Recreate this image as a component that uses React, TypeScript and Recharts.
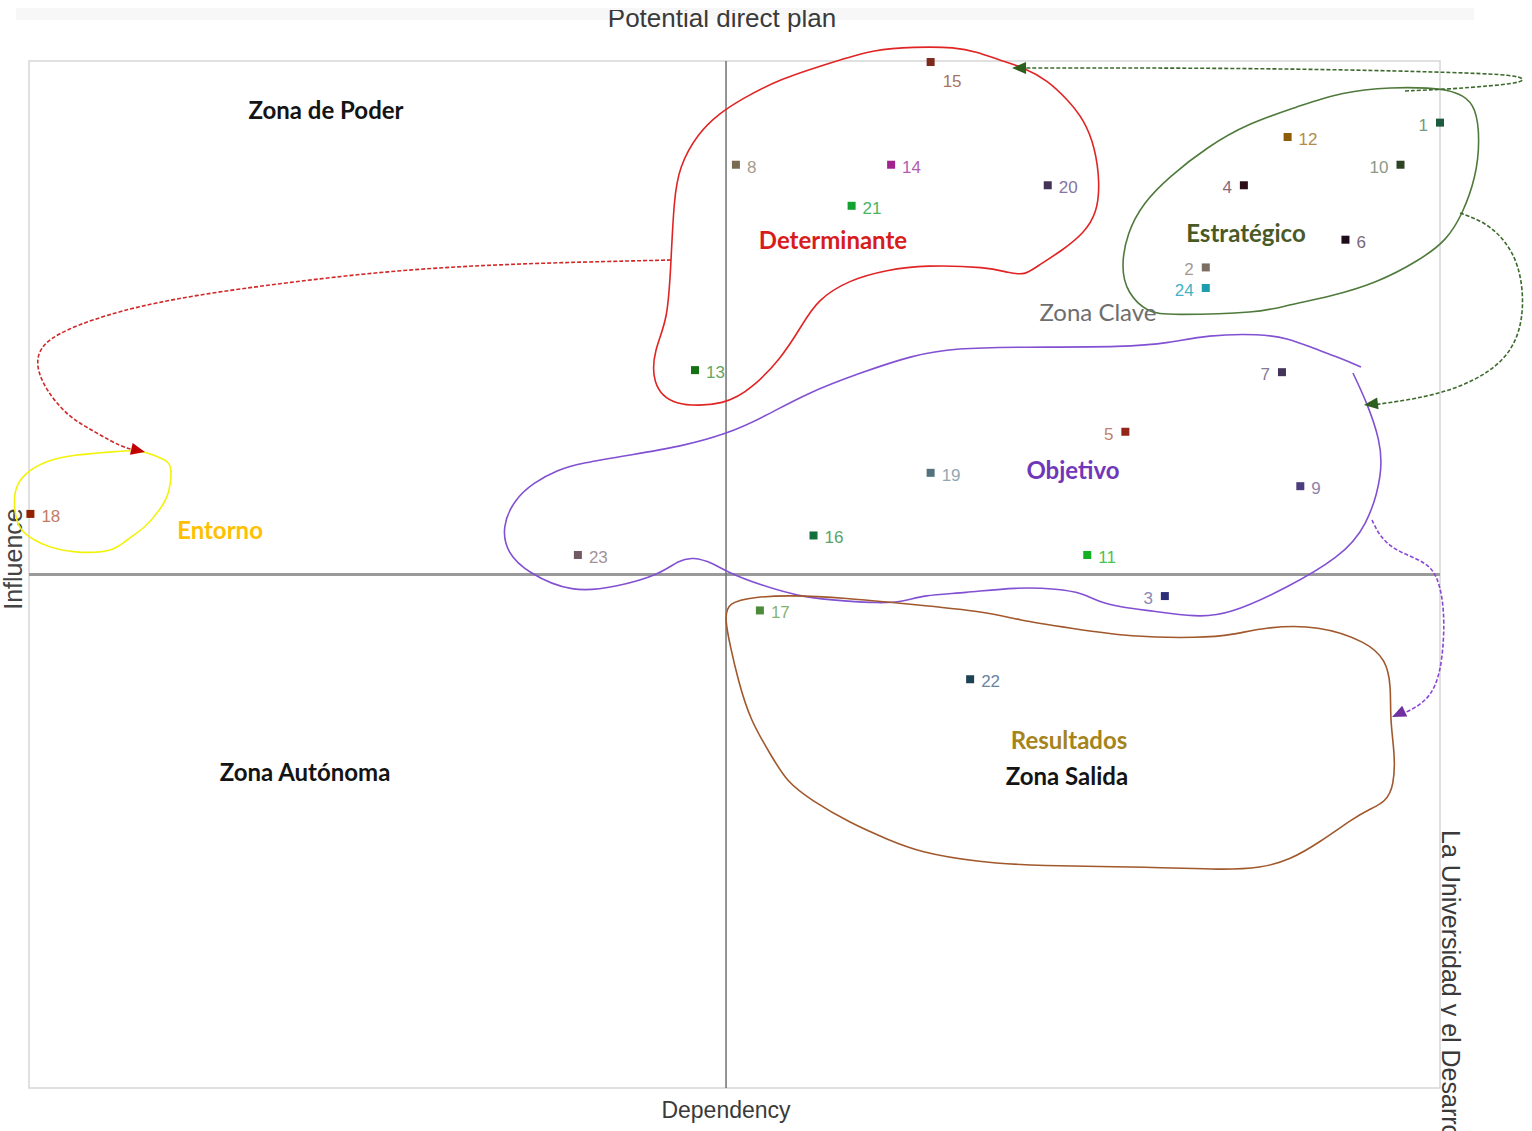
import React from "react";
import { ScatterChart, Scatter, XAxis, YAxis, ReferenceLine, ReferenceArea, Customized } from "recharts";

// variables: dependency (x) / influence (y)
const variableIds = ["1", "2", "3", "4", "5", "6", "7", "8", "9", "10", "11", "12", "13", "14", "15", "16", "17", "18", "19", "20", "21", "22", "23", "24"];
const dependency = [100.0, 83.4, 80.5, 86.1, 77.7, 93.3, 88.8, 50.1, 90.1, 97.2, 75.0, 89.2, 47.2, 61.1, 63.9, 55.6, 51.8, 0.1, 63.9, 72.2, 58.3, 66.7, 38.9, 83.4];
const influence = [94.0, 79.9, 47.9, 87.9, 63.9, 82.6, 69.7, 89.9, 58.6, 89.9, 51.9, 92.6, 69.9, 89.9, 99.9, 53.8, 46.5, 55.9, 59.9, 87.9, 85.9, 39.8, 51.9, 77.9];

// zone names and where they sit on the plan
const zoneNames = ["Zona de Poder", "Determinante", "Estratégico", "Zona Clave", "Objetivo", "Entorno", "Resultados", "Zona Salida", "Zona Autónoma"];
const zoneDependency = [21.05, 56.98, 86.25, 75.76, 73.99, 13.54, 73.71, 73.56, 19.56];
const zoneInfluence = [95.23, 82.57, 83.25, 75.56, 60.18, 54.33, 33.89, 30.38, 30.77];

// hand drawn outlines (dependency, influence)
const determinanteOutline = [
  [45.5, 66.31], [44.15, 68.65], [44.29, 71.86], [45.29, 74.78], [45.5, 80.62], [45.71, 86.47], [46.07, 89.68],
  [47.41, 92.99], [48.97, 94.94], [50.39, 96.2], [53.01, 98.15], [56.77, 99.81], [60.03, 101.17], [62.65, 101.36],
  [65.7, 101.36], [67.19, 100.88], [68.75, 100.1], [70.59, 99.32], [72.15, 98.15], [73.64, 96.2], [74.77, 94.26],
  [75.55, 91.63], [75.9, 88.12], [75.69, 85.2], [74.77, 83.25], [73.28, 81.6], [71.37, 79.94], [70.59, 79.16],
  [69.45, 79.36], [67.97, 79.94], [63.43, 80.14], [60.81, 79.65], [58.11, 78.68], [55.85, 76.73], [54.71, 74.1],
  [53.22, 70.89], [51.31, 68.26], [49.47, 66.5],
];
const entornoOutline = [
  [7.58, 62.12], [5.81, 61.93], [3.12, 61.64], [1.35, 61.15], [-0.35, 59.88], [-1.06, 58.23], [-1.06, 56.28],
  [-0.71, 54.33], [0.35, 53.36], [1.35, 52.68], [3.12, 52.09], [6.02, 52.19], [6.87, 53.36], [8.22, 54.53],
  [9.28, 56.28], [9.99, 57.94], [10.13, 60.47], [9.78, 61.15], [8.22, 61.93],
];
const estrategicoOutline = [
  [99.36, 97.37], [96.67, 97.47], [92.91, 96.98], [89.87, 95.52], [86.46, 93.96], [83.49, 91.63], [80.79, 88.71],
  [78.95, 86.17], [77.82, 83.25], [77.39, 79.94], [77.82, 77.41], [79.31, 75.46], [80.79, 75.27], [87.24, 75.46],
  [89.16, 76.24], [92.13, 77.02], [95.53, 78.38], [98.58, 80.62], [100.5, 82.57], [101.63, 85.2], [102.55, 88.71],
  [102.83, 92.31], [102.55, 95.52], [101.63, 96.69], [100.5, 97.18],
];
const objetivoOutline = [
  [94.4, 70.2], [92.91, 71.08], [91.0, 72.05], [89.16, 73.03], [87.24, 73.42], [83.49, 73.32], [80.79, 72.54],
  [77.82, 72.15], [70.23, 72.15], [65.7, 72.05], [62.65, 71.37], [58.89, 69.62], [55.14, 67.67], [52.09, 65.34],
  [49.47, 63.68], [46.07, 62.42], [42.59, 61.64], [39.19, 60.86], [37.42, 60.18], [35.72, 58.91], [34.37, 57.25],
  [33.52, 54.62], [33.88, 52.09], [35.36, 50.15], [38.48, 48.2], [41.6, 48.78], [44.65, 49.95], [46.07, 51.41],
  [47.06, 51.7], [48.48, 51.12], [49.47, 50.24], [51.81, 48.98], [55.0, 47.71], [57.9, 47.42], [60.17, 47.22],
  [61.94, 47.32], [63.36, 48.0], [66.27, 48.2], [70.02, 48.78], [72.93, 48.59], [74.63, 48.2], [75.83, 47.32],
  [77.25, 46.84], [79.59, 46.45], [82.71, 45.86], [84.97, 46.06], [89.16, 48.69], [92.91, 51.7], [94.83, 54.62],
  [95.96, 59.88], [95.75, 63.1], [94.83, 66.7], [93.83, 69.62],
];
const resultadosOutline = [
  [49.47, 47.32], [51.52, 47.81], [53.86, 48.0], [57.9, 47.71], [62.23, 47.13], [68.04, 46.35], [70.02, 45.57],
  [73.78, 44.79], [78.1, 43.91], [82.99, 43.82], [85.33, 44.11], [87.6, 44.89], [91.42, 45.08], [94.83, 43.43],
  [96.17, 41.67], [96.53, 39.24], [96.46, 35.83], [96.81, 32.42], [96.74, 29.5], [96.17, 27.85], [94.9, 27.07],
  [93.9, 26.29], [91.5, 23.95], [89.37, 22.2], [87.31, 21.42], [84.55, 21.23], [79.66, 21.52], [71.37, 21.62],
  [67.19, 22.01], [63.08, 22.98], [60.95, 24.15], [58.19, 25.8], [55.42, 28.04], [53.72, 29.8], [52.66, 32.23],
  [51.1, 35.83], [50.25, 39.73], [49.68, 43.14], [49.33, 45.57],
];

// dashed arrows between zones
const arrowToEntorno = [
  [45.5, 80.62], [39.19, 80.43], [32.32, 80.14], [25.44, 79.55], [18.57, 78.48], [11.69, 77.21], [6.52, 75.76],
  [2.41, 73.81], [0.71, 72.15], [0.5, 70.2], [1.2, 67.96], [2.76, 65.34], [4.82, 63.78], [6.52, 62.42], [7.73, 62.03],
];
const arrowToDeterminante = [
  [97.52, 97.08], [100.71, 97.27], [103.54, 97.57], [105.53, 97.86], [106.09, 98.25], [105.1, 98.64], [102.13, 98.83],
  [97.16, 99.03], [90.08, 99.22], [81.57, 99.32], [73.99, 99.32], [70.38, 99.32],
];
const arrowToObjetivo = [
  [101.42, 85.2], [103.19, 84.32], [104.61, 82.57], [105.6, 80.14], [105.95, 76.73], [105.67, 73.51], [104.61, 70.89],
  [102.48, 68.84], [99.72, 67.48], [96.81, 66.8], [95.18, 66.5],
];
const arrowToResultados = [
  [95.18, 55.31], [95.75, 53.65], [96.81, 52.39], [98.23, 51.61], [99.43, 50.73], [100.0, 48.98], [100.28, 46.54],
  [100.28, 43.62], [100.0, 40.21], [99.29, 38.07], [98.23, 37.0], [97.31, 36.42],
];
const arrowTipDependency = [8.22, 69.67, 94.61, 96.6];
const arrowTipInfluence = [61.93, 99.32, 66.5, 36.12];

const markColors: Record<string, [string, string]> = {
  "1": ["#1d5c3e", "#6f9c80"], "2": ["#7d6e64", "#a39a92"], "3": ["#2e2e78", "#8a8ab4"], "4": ["#2b0c18", "#876a78"],
  "5": ["#93261a", "#c2806e"], "6": ["#1c0c1c", "#796879"], "7": ["#43355a", "#877a96"], "8": ["#7a6c52", "#a59d8c"],
  "9": ["#4d3d7d", "#8d83a8"], "10": ["#2c4324", "#8b9a88"], "11": ["#12b022", "#45c454"], "12": ["#8c5c06", "#b48a4c"],
  "13": ["#147214", "#64a664"], "14": ["#a0228c", "#b25cb2"], "15": ["#7b2c1c", "#a57466"], "16": ["#12703a", "#56a468"],
  "17": ["#4c8a3c", "#84b474"], "18": ["#922202", "#c47a64"], "19": ["#52727e", "#94a6b0"], "20": ["#433356", "#8375a2"],
  "21": ["#12a232", "#46b664"], "22": ["#1c4254", "#6884a2"], "23": ["#725a64", "#a3929a"], "24": ["#1c9cae", "#42b2c4"],
};
const leftLabels = ["1", "10", "4", "2", "24", "7", "5", "3"];

const zoneStyle: Record<string, { fill: string; weight: number }> = {
  "Zona de Poder": { fill: "#141414", weight: 700 },
  Determinante: { fill: "#d81c1c", weight: 700 },
  "Estratégico": { fill: "#4a5a26", weight: 700 },
  "Zona Clave": { fill: "#6e6e6e", weight: 400 },
  Objetivo: { fill: "#7038b8", weight: 700 },
  Entorno: { fill: "#ffc000", weight: 700 },
  Resultados: { fill: "#a5841c", weight: 700 },
  "Zona Salida": { fill: "#141414", weight: 700 },
  "Zona Autónoma": { fill: "#141414", weight: 700 },
};

const outlines = [
  { data: determinanteOutline, color: "#e02424", dash: undefined, joint: "basisClosed" },
  { data: entornoOutline, color: "#f2f20a", dash: undefined, joint: "basisClosed" },
  { data: estrategicoOutline, color: "#4f7a3c", dash: undefined, joint: "basisClosed" },
  { data: objetivoOutline, color: "#8250d2", dash: undefined, joint: "basis" },
  { data: resultadosOutline, color: "#a0582c", dash: undefined, joint: "basisClosed" },
  { data: arrowToEntorno, color: "#d02828", dash: "4 2", joint: "basis" },
  { data: arrowToDeterminante, color: "#3c6a2c", dash: "4 2", joint: "basis" },
  { data: arrowToObjetivo, color: "#3c6a2c", dash: "4 2", joint: "basis" },
  { data: arrowToResultados, color: "#8a46d6", dash: "4 2", joint: "basis" },
];
const arrowTips = [
  { angle: 13, color: "#c00000" },
  { angle: 180, color: "#2e5e1e" },
  { angle: 173, color: "#2e5e1e" },
  { angle: 155, color: "#7030a0" },
];

const variables = variableIds.map((id, i) => ({ id, x: dependency[i], y: influence[i] }));
const zones = zoneNames.map((name, i) => ({ name, x: zoneDependency[i], y: zoneInfluence[i] }));
const toPoints = (pairs: number[][]) => pairs.map(([x, y]) => ({ x, y }));

const ARIAL = '"Liberation Sans", Arial, sans-serif';

const renderVariable = (props: any) => {
  const { cx, cy, payload } = props;
  const [mark, text] = markColors[payload.id];
  const left = leftLabels.includes(payload.id);
  const below = payload.id === "15";
  return (
    <g>
      <rect x={cx - 4} y={cy - 4} width={8} height={8} fill={mark} />
      <text
        x={left ? cx - 12 : cx + (below ? 12 : 11)}
        y={below ? cy + 25 : cy + 8}
        textAnchor={left ? "end" : "start"}
        fontFamily={ARIAL}
        fontSize={17}
        fill={text}
      >
        {payload.id}
      </text>
    </g>
  );
};

const renderZone = (props: any) => {
  const { cx, cy, payload } = props;
  const s = zoneStyle[payload.name];
  return (
    <text x={cx} y={cy} dy="0.36em" textAnchor="middle" fontFamily="Lato, sans-serif" fontSize={24} fontWeight={s.weight} fill={s.fill}>
      {payload.name}
    </text>
  );
};

const tipShape = (angle: number, color: string) => (props: any) => {
  const { cx, cy } = props;
  return <polygon points="0,0 -14,-6 -14,6" fill={color} transform={`translate(${cx},${cy}) rotate(${angle})`} />;
};

const FrameTexts = () => (
  <g fontFamily={ARIAL}>
    <defs>
      <clipPath id="clip-title">
        <rect x={0} y={10} width={1532} height={40} />
      </clipPath>
      <clipPath id="clip-right">
        <rect x={1441} y={0} width={91} height={1131} />
      </clipPath>
    </defs>
    <rect x={16} y={8} width={1458} height={12} fill="#f7f7f7" />
    <text x={722} y={27} textAnchor="middle" fontSize={26} fill="#3a3a3a" clipPath="url(#clip-title)">
      Potential direct plan
    </text>
    <text x={726} y={1118} textAnchor="middle" fontSize={23} fill="#3a3a3a">
      Dependency
    </text>
    <text x={22} y={559} transform="rotate(-90 22 559)" textAnchor="middle" fontSize={25} fill="#444">
      Influence
    </text>
    <g clipPath="url(#clip-right)">
      <text x={1442} y={830} transform="rotate(90 1442 830)" fontSize={25} fill="#3a3a3a">
        La Universidad y el Desarrollo
      </text>
    </g>
  </g>
);

export default function App() {
  return (
    <div style={{ position: "absolute", left: 0, top: 0, width: 1532, height: 1131, background: "#fff" }}>
      <ScatterChart width={1532} height={1131} margin={{ top: 0, right: 0, bottom: 0, left: 0 }}>
        <XAxis type="number" dataKey="x" domain={[-2.055, 106.52]} hide allowDataOverflow />
        <YAxis type="number" dataKey="y" domain={[-4.187, 105.94]} hide allowDataOverflow />
        <Customized component={FrameTexts} />
        <ReferenceArea x1={0} x2={100} y1={0} y2={100} fill="none" stroke="#d6d6d6" strokeWidth={1.5} />
        <ReferenceLine segment={[{ x: 0, y: 50 }, { x: 100, y: 50 }]} stroke="#9a9a9a" strokeWidth={3} />
        <ReferenceLine segment={[{ x: 49.4, y: 0 }, { x: 49.4, y: 100 }]} stroke="#707070" strokeWidth={1.5} />
        {outlines.map((o, i) => (
          <Scatter
            key={`outline-${i}`}
            data={toPoints(o.data)}
            shape={() => <g />}
            line={{ stroke: o.color, strokeWidth: 1.6, strokeDasharray: o.dash }}
            lineJointType={o.joint as any}
            legendType="none"
            isAnimationActive={false}
          />
        ))}
        {arrowTips.map((t, i) => (
          <Scatter
            key={`tip-${i}`}
            data={[{ x: arrowTipDependency[i], y: arrowTipInfluence[i] }]}
            shape={tipShape(t.angle, t.color)}
            legendType="none"
            isAnimationActive={false}
          />
        ))}
        <Scatter data={variables} shape={renderVariable} legendType="none" isAnimationActive={false} />
        <Scatter data={zones} shape={renderZone} legendType="none" isAnimationActive={false} />
      </ScatterChart>
    </div>
  );
}
